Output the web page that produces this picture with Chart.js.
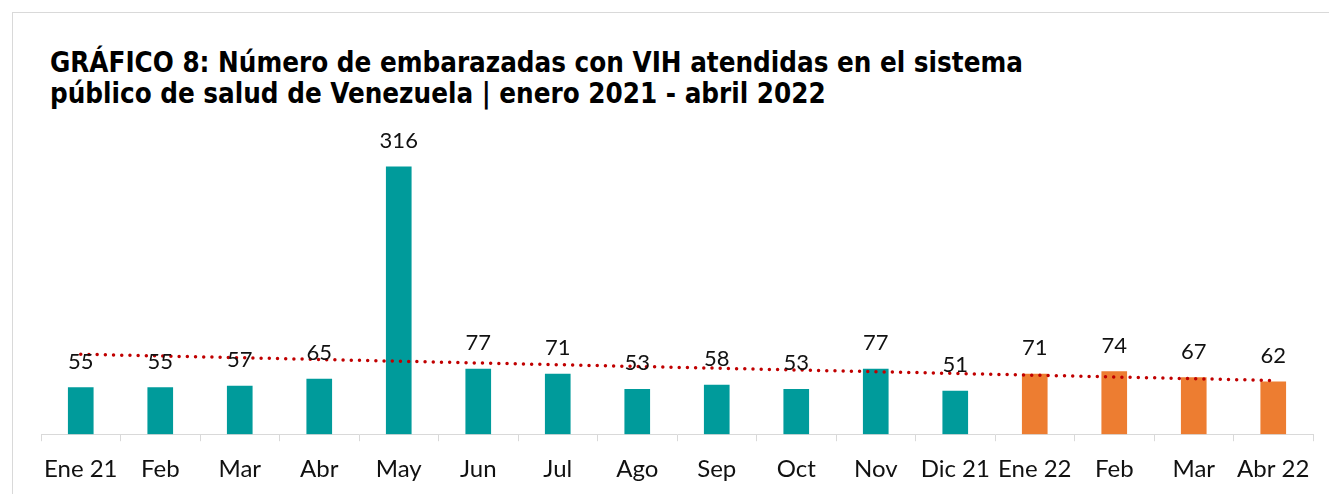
<!DOCTYPE html>
<html lang="es">
<head>
<meta charset="utf-8">
<title>Gráfico 8</title>
<script src="https://cdn.jsdelivr.net/npm/chart.js@4"></script>
<style>
    html, body {
        margin: 0;
        padding: 0;
        background: #ffffff;
        overflow: hidden;
    }
    .frame {
        position: absolute;
        left: 12px;
        top: 12px;
        width: 1340px;
        height: 500px;
        border: 1px solid #d9d9d9;
        box-sizing: border-box;
    }
    .chart-title {
        position: absolute;
        left: 50px;
        top: 47px;
        font-family: 'DejaVu Sans Condensed', 'DejaVu Sans', sans-serif;
        font-weight: bold;
        font-size: 27.5px;
        line-height: 31px;
        color: #000000;
        white-space: nowrap;
    }
    .chart-wrap {
        position: absolute;
        left: 0;
        top: 0;
        width: 1329px;
        height: 498px;
    }
</style>
</head>
<body>
<div class="frame"></div>
<div class="chart-title">GRÁFICO 8: Número de embarazadas con VIH atendidas en el sistema<br>público de salud de Venezuela | enero 2021 - abril 2022</div>
<div class="chart-wrap"><canvas id="embarazadasChart"></canvas></div>

<script>
// Datos
const months = ['Ene 21', 'Feb', 'Mar', 'Abr', 'May', 'Jun', 'Jul', 'Ago', 'Sep', 'Oct', 'Nov', 'Dic 21', 'Ene 22', 'Feb', 'Mar', 'Abr 22'];
const pregnantCounts = [55, 55, 57, 65, 316, 77, 71, 53, 58, 53, 77, 51, 71, 74, 67, 62];
const yearOfMonth = [2021, 2021, 2021, 2021, 2021, 2021, 2021, 2021, 2021, 2021, 2021, 2021, 2022, 2022, 2022, 2022];
// linea de tendencia (inicio y fin)
const trendEnds = [94.5, 63.5];

const TEAL = '#009b9b';
const ORANGE = '#ed7d31';

const barColors = yearOfMonth.map(y => y === 2022 ? ORANGE : TEAL);
const trendData = months.map((m, i) => {
    if (i === 0) return trendEnds[0];
    if (i === months.length - 1) return trendEnds[1];
    return null;
});

// Etiquetas de valor sobre las barras
const valueLabels = {
    id: 'valueLabels',
    afterDatasetsDraw(chart) {
        const ctx = chart.ctx;
        const meta = chart.getDatasetMeta(1);
        ctx.save();
        ctx.font = '22px Lato, sans-serif';
        ctx.fillStyle = '#111111';
        ctx.textAlign = 'center';
        ctx.textBaseline = 'middle';
        meta.data.forEach((bar, i) => {
            ctx.fillText(pregnantCounts[i], bar.x, bar.y - 26);
        });
        ctx.restore();
    }
};

document.addEventListener('DOMContentLoaded', function() {
    const ctx = document.getElementById('embarazadasChart');
    new Chart(ctx, {
        type: 'bar',
        data: {
            labels: months,
            datasets: [{
                type: 'line',
                label: 'Tendencia',
                data: trendData,
                spanGaps: true,
                borderColor: '#c00000',
                borderWidth: 3.5,
                borderDash: [0, 8.2],
                borderCapStyle: 'round',
                pointRadius: 0,
                fill: false,
                order: 0
            }, {
                label: 'Embarazadas con VIH',
                data: pregnantCounts,
                backgroundColor: barColors,
                borderWidth: 0,
                barThickness: 25,
                order: 1
            }]
        },
        options: {
            responsive: true,
            maintainAspectRatio: false,
            animation: false,
            layout: {
                padding: { left: 41, right: 16, top: 138, bottom: 0 }
            },
            plugins: {
                legend: { display: false },
                tooltip: { enabled: false }
            },
            scales: {
                x: {
                    offset: true,
                    grid: {
                        offset: true,
                        drawOnChartArea: false,
                        drawTicks: true,
                        tickLength: 7,
                        color: '#d9d9d9'
                    },
                    border: { color: '#d9d9d9', width: 1 },
                    ticks: {
                        color: '#111111',
                        padding: 14,
                        maxRotation: 0,
                        autoSkip: false,
                        font: { family: 'Lato, sans-serif', size: 24 }
                    }
                },
                y: {
                    display: false,
                    min: 0,
                    max: 350
                }
            }
        },
        plugins: [valueLabels]
    });
});
</script>
</body>
</html>
